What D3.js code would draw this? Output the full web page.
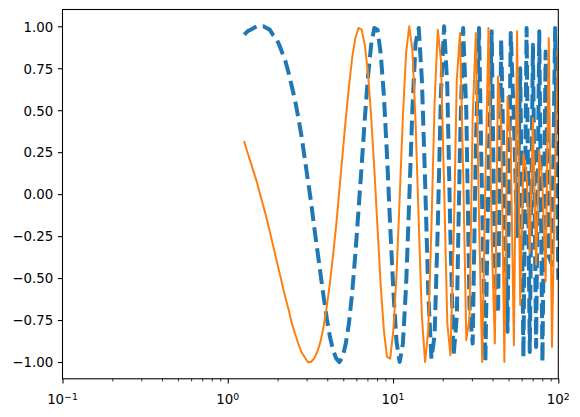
<!DOCTYPE html>
<html><head><meta charset="utf-8">
<script src="https://cdnjs.cloudflare.com/ajax/libs/d3/7.8.5/d3.min.js"></script>
<style>
body{margin:0;background:#fff}
svg text{font-family:"DejaVu Sans";font-size:13.33px;fill:#000}
</style>
</head><body><div id="chart"></div>
<script>
// x samples (log spaced, 10^0.1 .. 10^2)
var xValues = [
	1.259, 1.316, 1.375, 1.437, 1.502, 1.57, 1.641, 1.715, 1.793, 1.874, 1.958, 2.047,
	2.139, 2.236, 2.337, 2.443, 2.553, 2.668, 2.789, 2.915, 3.047, 3.184, 3.328, 3.479,
	3.636, 3.8, 3.972, 4.151, 4.339, 4.535, 4.74, 4.954, 5.178, 5.412, 5.656, 5.912,
	6.179, 6.458, 6.75, 7.055, 7.374, 7.707, 8.055, 8.419, 8.799, 9.197, 9.612, 10.05,
	10.5, 10.97, 11.47, 11.99, 12.53, 13.1, 13.69, 14.31, 14.95, 15.63, 16.34, 17.07,
	17.84, 18.65, 19.49, 20.37, 21.3, 22.26, 23.26, 24.31, 25.41, 26.56, 27.76, 29.02,
	30.33, 31.7, 33.13, 34.63, 36.19, 37.82, 39.53, 41.32, 43.19, 45.14, 47.18, 49.31,
	51.54, 53.87, 56.3, 58.84, 61.5, 64.28, 67.19, 70.22, 73.39, 76.71, 80.18, 83.8,
	87.58, 91.54, 95.68, 100
];
// blue dashed series
var blueValues = [
	0.95, 0.97, 0.98, 0.99, 1.00, 1.00, 1.00, 0.99, 0.98, 0.95, 0.93, 0.89,
	0.84, 0.79, 0.72, 0.64, 0.56, 0.46, 0.35, 0.22, 0.09, -0.04, -0.19, -0.33,
	-0.47, -0.61, -0.74, -0.85, -0.93, -0.98, -1.00, -0.97, -0.89, -0.77, -0.59, -0.36,
	-0.10, 0.17, 0.45, 0.70, 0.89, 0.99, 0.98, 0.84, 0.59, 0.23, -0.19, -0.58,
	-0.88, -1.00, -0.89, -0.55, -0.04, 0.51, 0.90, 0.99, 0.68, 0.08, -0.59, -0.98,
	-0.84, -0.20, 0.60, 1.00, 0.64, -0.26, -0.96, -0.73, 0.28, 0.99, 0.49, -0.67,
	-0.89, 0.28, 0.99, -0.07, -1.00, 0.13, 0.97, -0.46, -0.71, 0.92, -0.05, -0.82,
	0.96, 0.44, -0.25, 0.75, -0.97, 0.99, -0.94, 0.89, -0.91, 0.97, -1.00, 0.85,
	-0.37, -0.42, 0.99, -0.51
];
// orange solid series
var orangeValues = [
	0.31, 0.25, 0.19, 0.13, 0.07, 0.00, -0.07, -0.14, -0.22, -0.30, -0.38, -0.46,
	-0.54, -0.62, -0.69, -0.77, -0.83, -0.89, -0.94, -0.97, -1.00, -1.00, -0.98, -0.94,
	-0.88, -0.79, -0.67, -0.53, -0.36, -0.18, 0.03, 0.24, 0.45, 0.64, 0.81, 0.93,
	0.99, 0.98, 0.89, 0.72, 0.46, 0.15, -0.20, -0.54, -0.81, -0.97, -0.98, -0.81,
	-0.48, -0.02, 0.46, 0.84, 1.00, 0.86, 0.43, -0.17, -0.73, -1.00, -0.81, -0.20,
	0.54, 0.98, 0.80, 0.05, -0.77, -0.96, -0.29, 0.68, 0.96, 0.14, -0.87, -0.74,
	0.46, 0.96, -0.14, -1.00, 0.06, 0.99, -0.26, -0.89, 0.70, 0.40, -1.00, 0.58,
	0.29, -0.90, 0.97, -0.66, 0.24, 0.12, -0.35, 0.45, -0.42, 0.26, 0.06, -0.52,
	0.93, -0.91, 0.14, 0.86
];
var xMajorTicks = [0.1, 1, 10, 100];
var xMajorExp = ['\u22121', '0', '1', '2'];
var xMinorTicks = [0.2, 0.3, 0.4, 0.5, 0.6, 0.7, 0.8, 0.9, 2, 3, 4, 5, 6, 7, 8, 9, 20, 30, 40, 50, 60, 70, 80, 90];
var yTicks = [-1, -0.75, -0.5, -0.25, 0, 0.25, 0.5, 0.75, 1];

var total_width = 580;
var total_height = 417;
var plot = {left: 62.5, right: 558.3, top: 9.5, bottom: 378.8};

var svg = d3.select('#chart')
	.append('svg')
	.attr('width', total_width)
	.attr('height', total_height);

var x = d3.scaleLog().domain([0.1, 100]).range([plot.left, plot.right]);
var y = d3.scaleLinear().domain([-1.1, 1.1]).range([plot.bottom, plot.top]);

svg.append('clipPath')
	.attr('id', 'clip')
	.append('rect')
	.attr('x', plot.left)
	.attr('y', plot.top)
	.attr('width', plot.right - plot.left)
	.attr('height', plot.bottom - plot.top);

var line = d3.line()
	.x(function(d) { return x(d[0]); })
	.y(function(d) { return y(d[1]); });

// blue dashed line (lw 3)
svg.append('path')
	.datum(xValues.map(function(v, i) { return [v, blueValues[i]]; }))
	.attr('clip-path', 'url(#clip)')
	.attr('d', line)
	.attr('fill', 'none')
	.attr('stroke', '#1f77b4')
	.attr('stroke-width', 4)
	.attr('stroke-dasharray', '14.8,6.4')
	.attr('stroke-linejoin', 'round')
	.attr('stroke-linecap', 'butt');

// orange solid line
svg.append('path')
	.datum(xValues.map(function(v, i) { return [v, orangeValues[i]]; }))
	.attr('clip-path', 'url(#clip)')
	.attr('d', line)
	.attr('fill', 'none')
	.attr('stroke', '#ff7f0e')
	.attr('stroke-width', 2)
	.attr('stroke-linejoin', 'round')
	.attr('stroke-linecap', 'square');

// Y axis
var yAxis = svg.append('g')
	.attr('transform', 'translate(' + plot.left + ',0)')
	.call(d3.axisLeft(y).tickValues(yTicks).tickSize(4.67).tickPadding(4.67)
		.tickFormat(function(d) { return d3.format('.2f')(d); }));
yAxis.select('.domain').remove();
yAxis.selectAll('line').attr('stroke', '#000').attr('stroke-width', 1.07);
yAxis.selectAll('text')
	.attr('font-family', 'DejaVu Sans')
	.attr('font-size', '13.33px')
	.attr('dy', '0.36em');

// X axis, minor ticks
var xMinor = svg.append('g')
	.attr('transform', 'translate(0,' + plot.bottom + ')')
	.call(d3.axisBottom(x).tickValues(xMinorTicks).tickSize(2.67).tickFormat(''));
xMinor.select('.domain').remove();
xMinor.selectAll('line').attr('stroke', '#000').attr('stroke-width', 0.8);

// X axis, major ticks
var xMajor = svg.append('g')
	.attr('transform', 'translate(0,' + plot.bottom + ')')
	.call(d3.axisBottom(x).tickValues(xMajorTicks).tickSize(4.67).tickFormat(''));
xMajor.select('.domain').remove();
xMajor.selectAll('line').attr('stroke', '#000').attr('stroke-width', 1.07);

// labels like 10^-1
var lbl = svg.selectAll('.xlabel')
	.data(xMajorTicks)
	.enter()
	.append('text')
	.attr('class', 'xlabel')
	.attr('x', function(d) { return x(d); })
	.attr('y', 404.3)
	.attr('text-anchor', 'middle');
lbl.append('tspan').text('10');
lbl.append('tspan')
	.attr('dy', -4.5)
	.attr('font-size', '9.33px')
	.text(function(d, i) { return xMajorExp[i]; });

// frame
svg.append('rect')
	.attr('x', plot.left)
	.attr('y', plot.top)
	.attr('width', plot.right - plot.left)
	.attr('height', plot.bottom - plot.top)
	.attr('fill', 'none')
	.attr('stroke', '#000')
	.attr('stroke-width', 1.07);
</script></body></html>
